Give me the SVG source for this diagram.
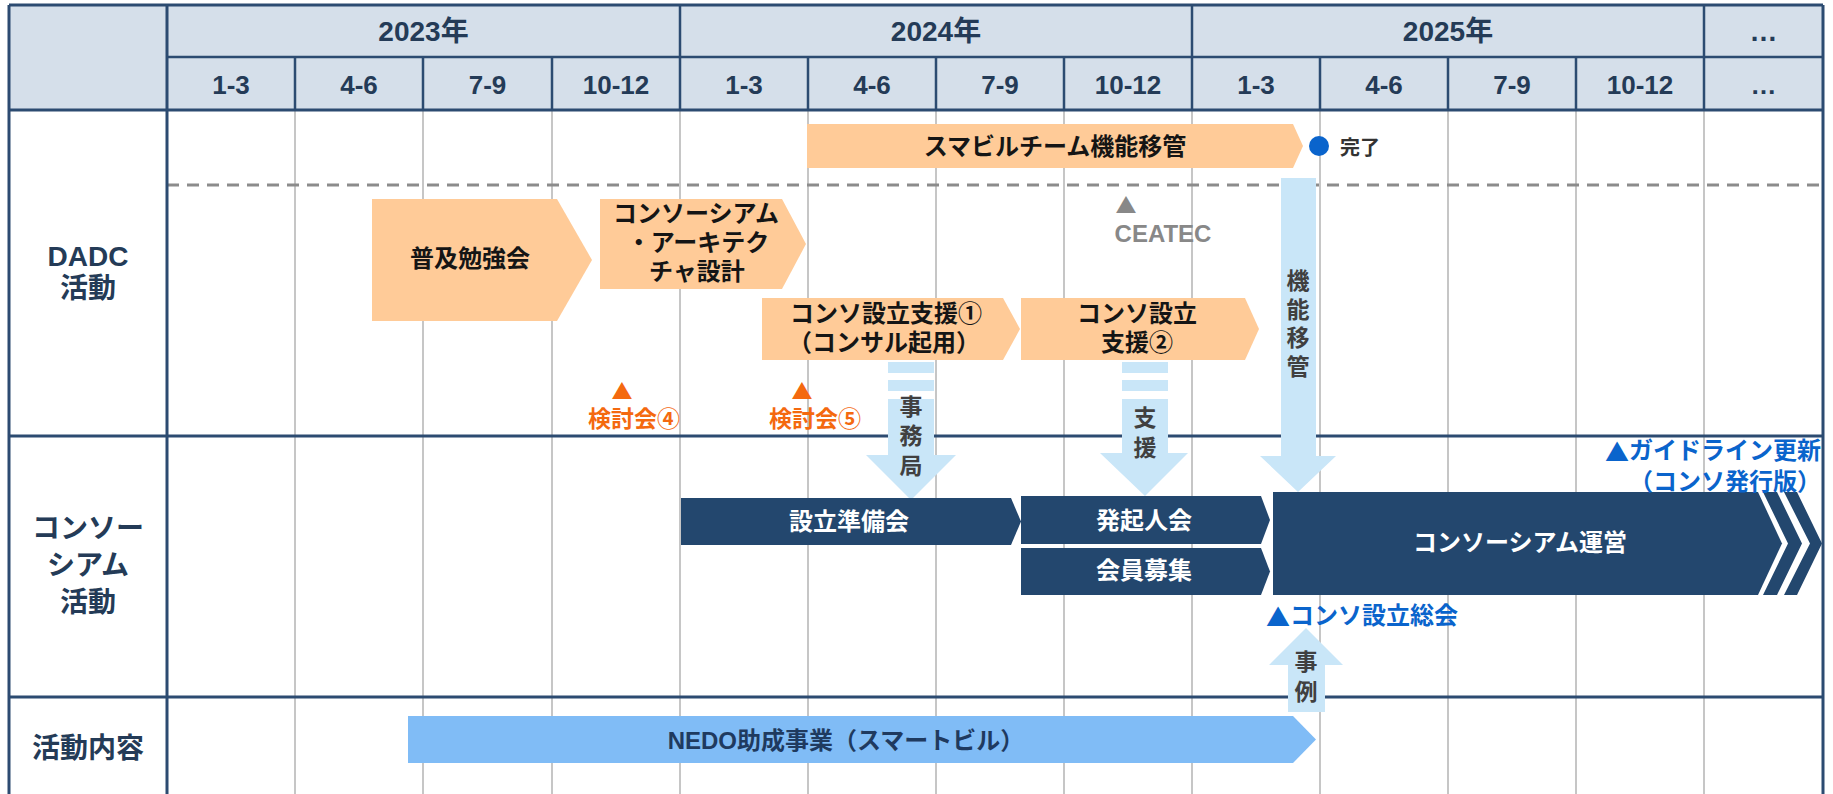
<svg xmlns="http://www.w3.org/2000/svg" width="1833" height="794" viewBox="0 0 1833 794">
<style>
text{font-family:"Liberation Sans","Noto Sans CJK JP",sans-serif;font-weight:bold;dominant-baseline:central;text-anchor:middle}
.tri{font-family:"Noto Sans CJK JP",sans-serif}
.hdr{fill:#243B57;font-size:28px}
.q{fill:#243B57;font-size:26px}
.lbl{fill:#243B57;font-size:28px}
.peach{fill:#FFCB98}
.navy{fill:#23476E}
.lb{fill:#C9E6F8}
.nedo{fill:#80BCF6}
.pt{fill:#151515;font-size:24px}
.wt{fill:#FFFFFF;font-size:24px}
.vt{fill:#404040;font-size:23px}
.or{fill:#F4690F;font-size:23px}
.bl{fill:#0A64CC;font-size:24px}
.major{stroke:#2C4B71;stroke-width:3;fill:none}
.minor{stroke:#2C4B71;stroke-width:2.5;fill:none}
.grid{stroke:#B4B4B4;stroke-width:1.5;fill:none}
</style>

<g id="table">
  <rect x="9" y="5" width="1814" height="105" fill="#D5DFEA"/>
  <g class="grid">
    <path d="M295 110V794M423 110V794M552 110V794M680 110V794M808 110V794M936 110V794M1064 110V794M1192 110V794M1320 110V794M1448 110V794M1576 110V794M1704 110V794"/>
  </g>
  <path d="M167 185H1823" stroke="#8C8C8C" stroke-width="3" stroke-dasharray="12 8" fill="none"/>
  <g class="minor">
    <path d="M167 57H1823"/>
    <path d="M295 57V110M423 57V110M552 57V110M808 57V110M936 57V110M1064 57V110M1320 57V110M1448 57V110M1576 57V110"/>
    <path d="M680 5V110M1192 5V110M1704 5V110"/>
  </g>
  <g class="major">
    <path d="M9 5H1823"/>
    <path d="M9 5V794M1823 5V794M167 5V794"/>
    <path d="M9 110H1823M9 436H1823M9 697H1823"/>
  </g>
  <text class="hdr" x="423.5" y="31">2023年</text>
  <text class="hdr" x="936" y="31">2024年</text>
  <text class="hdr" x="1448" y="31">2025年</text>
  <text class="hdr" x="1763.5" y="31">…</text>
  <text class="q" x="231" y="85">1-3</text>
  <text class="q" x="359" y="85">4-6</text>
  <text class="q" x="487.5" y="85">7-9</text>
  <text class="q" x="616" y="85">10-12</text>
  <text class="q" x="744" y="85">1-3</text>
  <text class="q" x="872" y="85">4-6</text>
  <text class="q" x="1000" y="85">7-9</text>
  <text class="q" x="1128" y="85">10-12</text>
  <text class="q" x="1256" y="85">1-3</text>
  <text class="q" x="1384" y="85">4-6</text>
  <text class="q" x="1512" y="85">7-9</text>
  <text class="q" x="1640" y="85">10-12</text>
  <text class="q" x="1763.5" y="85">…</text>
  <text class="lbl" x="88" y="256">DADC</text>
  <text class="lbl" x="88" y="288">活動</text>
  <text class="lbl" x="88" y="528">コンソー</text>
  <text class="lbl" x="88" y="565">シアム</text>
  <text class="lbl" x="88" y="602">活動</text>
  <text class="lbl" x="88" y="748">活動内容</text>
</g>

<g id="connectors">
  <g id="arrow-kinou">
    <path class="lb" d="M1281 178H1316V456H1336L1298 492L1260 456H1281Z"/>
    <text class="vt" x="1298" y="281">機</text>
    <text class="vt" x="1298" y="310">能</text>
    <text class="vt" x="1298" y="338">移</text>
    <text class="vt" x="1298" y="367">管</text>
  </g>
  <g id="arrow-jimukyoku">
    <rect class="lb" x="888" y="362" width="46" height="11"/>
    <rect class="lb" x="888" y="380" width="46" height="11"/>
    <path class="lb" d="M888 399H934V455H956L911 500L866 455H888Z"/>
    <text class="vt" x="911" y="407">事</text>
    <text class="vt" x="911" y="436">務</text>
    <text class="vt" x="911" y="466">局</text>
  </g>
  <g id="arrow-shien">
    <rect class="lb" x="1122" y="362" width="46" height="11"/>
    <rect class="lb" x="1122" y="380" width="46" height="11"/>
    <path class="lb" d="M1122 399H1168V453H1188L1145 496L1100 453H1122Z"/>
    <text class="vt" x="1145" y="418">支</text>
    <text class="vt" x="1145" y="448">援</text>
  </g>
  <g id="arrow-jirei">
    <path class="lb" d="M1306 628L1343 665H1325V712H1288V665H1269Z"/>
    <text class="vt" x="1306" y="662">事</text>
    <text class="vt" x="1306" y="692">例</text>
  </g>
</g>

<g id="n-sumabiru">
  <path class="peach" d="M807 124H1293L1303 146L1293 168H807Z"/>
  <text class="pt" x="1055" y="146">スマビルチーム機能移管</text>
</g>
<g id="n-kanryo">
  <circle cx="1319" cy="146" r="10" fill="#0A64CC"/>
  <text x="1360" y="148" fill="#333333" style="font-size:20px">完了</text>
</g>
<g id="n-fukyu">
  <path class="peach" d="M372 199H557L592 260L557 321H372Z"/>
  <text class="pt" x="470" y="258">普及勉強会</text>
</g>
<g id="n-arch">
  <path class="peach" d="M600 199H782L806 244L782 289H600Z"/>
  <text class="pt" x="696" y="213">コンソーシアム</text>
  <text class="pt" x="698" y="242">・アーキテク</text>
  <text class="pt" x="697" y="271">チャ設計</text>
</g>
<g id="n-shien1">
  <path class="peach" d="M762 298H1003L1020 329L1003 360H762Z"/>
  <text class="pt" x="886" y="313">コンソ設立支援①</text>
  <text class="pt" x="884" y="342">（コンサル起用）</text>
</g>
<g id="n-shien2">
  <path class="peach" d="M1021 298H1245L1259 329L1245 360H1021Z"/>
  <text class="pt" x="1137" y="313">コンソ設立</text>
  <text class="pt" x="1137" y="342">支援②</text>
</g>
<g id="n-ceatec">
  <text class="tri" x="1126" y="204" fill="#888888" style="font-size:21px">▲</text>
  <text x="1163" y="233" fill="#888888" style="font-size:24px">CEATEC</text>
</g>
<g id="n-kento4">
  <text class="or tri" x="622" y="390" style="font-size:21px">▲</text>
  <text class="or" x="634" y="419">検討会④</text>
</g>
<g id="n-kento5">
  <text class="or tri" x="802" y="390" style="font-size:21px">▲</text>
  <text class="or" x="815" y="419">検討会⑤</text>
</g>
<g id="n-junbi">
  <path class="navy" d="M681 498H1011L1021 521.5L1011 545H681Z"/>
  <text class="wt" x="849" y="521">設立準備会</text>
</g>
<g id="n-hokinin">
  <path class="navy" d="M1021 496H1261L1270 520L1261 544H1021Z"/>
  <text class="wt" x="1144" y="520">発起人会</text>
</g>
<g id="n-boshu">
  <path class="navy" d="M1021 548H1261L1270 571.5L1261 595H1021Z"/>
  <text class="wt" x="1144" y="570">会員募集</text>
</g>
<g id="n-unei">
  <path class="navy" d="M1273 492H1758L1782 543.5L1758 595H1273Z"/>
  <path class="navy" d="M1763 492H1777L1802 543.5L1777 595H1763L1788 543.5Z"/>
  <path class="navy" d="M1784 492H1797L1822 543.5L1797 595H1784L1810 543.5Z"/>
  <text class="wt" x="1520" y="542">コンソーシアム運営</text>
</g>
<g id="n-guideline">
  <text class="bl" x="1821" y="450" style="text-anchor:end"><tspan class="tri">▲</tspan>ガイドライン更新</text>
  <text class="bl" x="1821" y="481" style="text-anchor:end">（コンソ発行版）</text>
</g>
<g id="n-soukai">
  <text class="bl" x="1266" y="615" style="text-anchor:start"><tspan class="tri">▲</tspan>コンソ設立総会</text>
</g>
<g id="n-nedo">
  <path class="nedo" d="M408 716H1293L1316 739.5L1293 763H408Z"/>
  <text x="846" y="740" fill="#1F3A5F" style="font-size:24px">NEDO助成事業（スマートビル）</text>
</g>
</svg>
